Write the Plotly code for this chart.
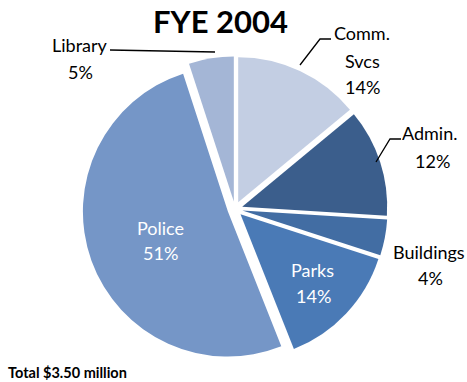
import plotly.graph_objects as go

# Budget shares, FYE 2004 (clockwise from 12 o'clock)
categories = ["Comm.<br>Svcs", "Admin.", "Buildings", "Parks", "Police", "Library"]
shares = [14, 12, 4, 14, 51, 5]
colors = ["#C3CEE3", "#3B5E8C", "#426DA3", "#4A7AB6", "#7596C7", "#A4B6D6"]
title_text = "FYE 2004"
total_text = "Total $3.50 million"

W, H = 467, 382
FONT = "Lato, 'Open Sans', sans-serif"

# pie placement (pixels)
cx, cy, r, pull = 235, 209, 145, 0.052
half = r * (1 + pull)


def px(x, y):
    return x / W, 1 - y / H


fig = go.Figure(
    go.Pie(
        labels=[c.replace("<br>", " ") for c in categories],
        values=shares,
        sort=False,
        direction="clockwise",
        rotation=0,
        pull=[pull] * len(shares),
        marker=dict(colors=colors, line=dict(width=0)),
        textinfo="none",
        hoverinfo="label+percent",
        domain=dict(x=[(cx - half) / W, (cx + half) / W],
                    y=[1 - (cy + half) / H, 1 - (cy - half) / H]),
        showlegend=False,
    )
)

# label positions (pixel centres of each text line) and label colour
label_pos = {
    "Comm.<br>Svcs": ([(362, 33), (362, 61), (362, 87)], "#000000"),
    "Admin.": ([(430, 133), (432, 161)], "#000000"),
    "Buildings": ([(429, 252), (430, 278)], "#000000"),
    "Parks": ([(312, 270), (313, 296)], "#FFFFFF"),
    "Police": ([(160, 228), (160, 253)], "#FFFFFF"),
    "Library": ([(80, 45), (80, 72)], "#000000"),
}

annotations = []
for name, val in zip(categories, shares):
    lines = name.split("<br>") + [f"{val}%"]
    pos, col = label_pos[name]
    for text, (x, y) in zip(lines, pos):
        ax, ay = px(x, y)
        annotations.append(dict(
            x=ax, y=ay, xref="paper", yref="paper", text=text, showarrow=False,
            xanchor="center", yanchor="middle",
            font=dict(family=FONT, size=18, color=col),
        ))

tx, ty = px(220, 21)
annotations.append(dict(
    x=tx, y=ty, xref="paper", yref="paper", text=f"<b>{title_text}</b>",
    showarrow=False, xanchor="center", yanchor="middle",
    font=dict(family=FONT, size=31, color="#000000"),
))
bx, by = px(6, 372)
annotations.append(dict(
    x=bx, y=by, xref="paper", yref="paper", text=f"<b>{total_text}</b>",
    showarrow=False, xanchor="left", yanchor="middle",
    font=dict(family=FONT, size=14.5, color="#000000"),
))

# leader lines for the outside labels
leaders = [
    [(110, 50), (215, 52)],
    [(300, 65), (320, 39), (331, 39)],
    [(376, 162), (390, 139), (401, 139)],
]
shapes = []
for pts in leaders:
    p = [px(x, y) for x, y in pts]
    path = "M " + " L ".join(f"{x:.5f},{y:.5f}" for x, y in p)
    shapes.append(dict(type="path", path=path, xref="paper", yref="paper",
                       line=dict(color="#000000", width=1.3)))

fig.update_layout(
    width=W, height=H,
    margin=dict(l=0, r=0, t=0, b=0),
    paper_bgcolor="#FFFFFF", plot_bgcolor="#FFFFFF",
    annotations=annotations, shapes=shapes,
)

fig.write_html("out.html")
